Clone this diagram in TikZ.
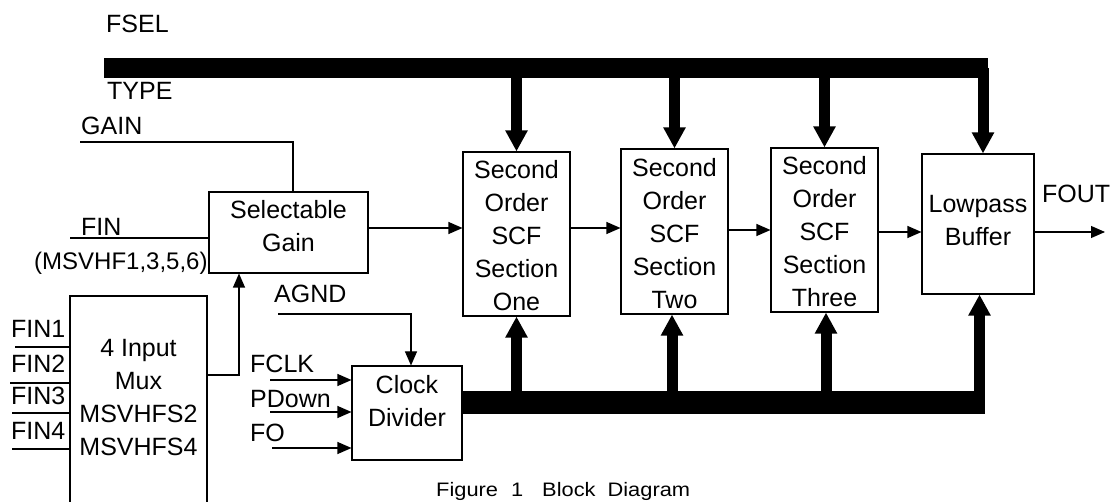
\documentclass[tikz,border=0pt]{standalone}
\usepackage{fontspec}
\setmainfont{Liberation Sans}
\newfontfamily\capfont[FakeStretch=1.12]{Liberation Sans}
\usetikzlibrary{arrows.meta}
\begin{document}
\begin{tikzpicture}[x=1pt,y=-1pt,
  lbl/.style={anchor=base west,inner sep=0pt,font=\fontsize{25}{25}\selectfont},
  boxtxt/.style={inner sep=0pt,align=center,font=\fontsize{25}{33}\selectfont},
  blk/.style={draw,line width=1.1pt,rectangle,inner sep=0pt},
  wire/.style={line width=1.1pt},
  arr/.style={wire,-{Triangle[length=14pt,width=12pt]}},
  bustop/.style={line width=19.5pt},
  busbot/.style={line width=23pt},
  busarr/.style={line width=11pt,-{Triangle[length=21pt,width=21pt]}}
]
\useasboundingbox (0,0) rectangle (1112,502);
\clip (0,0) rectangle (1112,502);
\fill[white] (0,0) rectangle (1112,502);

% blocks
\node[blk,minimum width=159pt,minimum height=81pt] (gain) at (288.5,232.5) {};
\node[blk,minimum width=107pt,minimum height=164pt] (one) at (516.5,234) {};
\node[blk,minimum width=107pt,minimum height=165pt] (two) at (674.5,231.5) {};
\node[blk,minimum width=107pt,minimum height=164pt] (three) at (824.5,230) {};
\node[blk,minimum width=112pt,minimum height=140pt] (low) at (978,224) {};
\node[blk,minimum width=110pt,minimum height=94pt] (clk) at (407,413) {};
\node[blk,minimum width=137pt,minimum height=240pt] (mux) at (138.5,416) {};

% block texts
\node[boxtxt] (gaint) at (288.5,226) {Selectable\\Gain};
\node[boxtxt] (onet) at (516.5,236) {Second\\Order\\SCF\\Section\\One};
\node[boxtxt] (twot) at (674.5,234) {Second\\Order\\SCF\\Section\\Two};
\node[boxtxt] (threet) at (824.5,232) {Second\\Order\\SCF\\Section\\Three};
\node[boxtxt] (lowt) at (978,221) {Lowpass\\Buffer};
\node[boxtxt] (clkt) at (407,401) {Clock\\Divider};
\node[boxtxt] (muxt) at (138.5,398) {4 Input\\Mux\\MSVHFS2\\MSVHFS4};

% labels
\node[lbl] (fsel) at (106,33) {FSEL};
\node[lbl] (type) at (107,100) {TYPE};
\node[lbl] (gainl) at (81,135) {GAIN};
\node[lbl] (finl) at (81,236) {FIN};
\node[lbl,font=\fontsize{24}{24}\selectfont] (msv) at (34,270) {(MSVHF1,3,5,6)};
\node[lbl] (fin1l) at (11,338) {FIN1};
\node[lbl] (fin2l) at (11,373) {FIN2};
\node[lbl] (fin3l) at (11,405) {FIN3};
\node[lbl] (fin4l) at (11,440) {FIN4};
\node[lbl] (agndl) at (274,303) {AGND};
\node[lbl] (fclkl) at (250,373) {FCLK};
\node[lbl] (pdownl) at (250,408) {PDown};
\node[lbl] (fol) at (250,442) {FO};
\node[lbl] (foutl) at (1042,203) {FOUT};
\node[anchor=base west,inner sep=0pt,font=\capfont\fontsize{19.5}{19.5}\selectfont] (cap) at (436,497)
  {Figure\hspace{13pt}1\hspace{19pt}Block\hspace{12pt}Diagram};

% free ends
\coordinate (gainin) at (80,142);
\coordinate (finin) at (70,238);
\coordinate (agnd) at (278,314);
\coordinate (fclk) at (270,380);
\coordinate (pdown) at (270,412);
\coordinate (fo) at (272,448);
\coordinate (f1) at (15,347);
\coordinate (f2) at (10,383);
\coordinate (f3) at (12,413);
\coordinate (f4) at (12,449);
\coordinate (fout) at (1105,232);
\coordinate (tbl) at (104,68);
\coordinate (tbr) at (988,68);
\coordinate (bbr) at (985,402.5);

% thin wires
\draw[wire] (gainin) -| ([xshift=4.5pt]gain.north);
\draw[wire] (finin) -- (finin -| gain.west);
\draw[arr] (mux.east |- 0,375) -| ([xshift=-49.5pt]gain.south);
\draw[arr] (agnd) -| ([xshift=4pt]clk.north);
\draw[arr] (fclk) -- (fclk -| clk.west);
\draw[arr] (pdown) -- (pdown -| clk.west);
\draw[arr] (fo) -- (fo -| clk.west);
\draw[wire] (f1) -- (f1 -| mux.west);
\draw[wire] (f2) -- (f2 -| mux.west);
\draw[wire] (f3) -- (f3 -| mux.west);
\draw[wire] (f4) -- (f4 -| mux.west);

% signal chain
\draw[arr] (gain.east |- 0,228) -- (one.west |- 0,228);
\draw[arr] (one.east |- 0,228) -- (two.west |- 0,228);
\draw[arr] (two.east |- 0,230) -- (three.west |- 0,230);
\draw[arr] (three.east |- 0,232) -- (low.west |- 0,232);
\draw[arr] (low.east |- fout) -- (fout);

% top bus
\draw[bustop] (tbl) -- (tbr);
\draw[busarr] (one.north |- tbl) -- (one.north);
\draw[busarr] (two.north |- tbl) -- (two.north);
\draw[busarr] (three.north |- tbl) -- (three.north);
\draw[busarr] ([xshift=5pt]low.north |- tbl) -- ([xshift=5pt]low.north);

% bottom bus
\draw[busbot] (clk.east |- bbr) -- (bbr);
\draw[busarr] (one.south |- bbr) -- (one.south);
\draw[busarr] ([xshift=-2.5pt]two.south |- bbr) -- ([xshift=-2.5pt]two.south);
\draw[busarr] ([xshift=1.5pt]three.south |- bbr) -- ([xshift=1.5pt]three.south);
\draw[busarr] ([xshift=1.5pt]low.south |- bbr) -- ([xshift=1.5pt]low.south);
\end{tikzpicture}
\end{document}
